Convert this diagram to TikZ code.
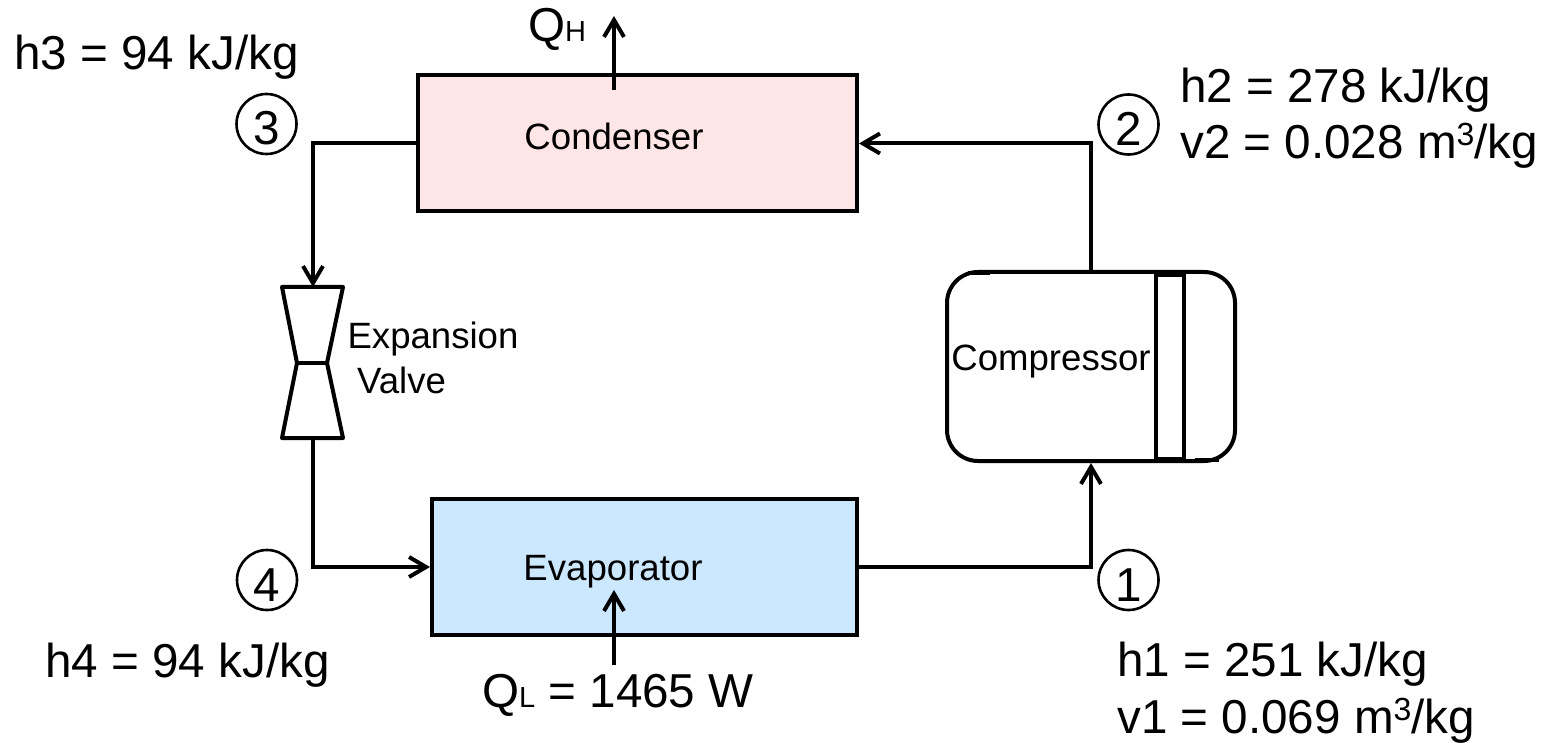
\documentclass[tikz,border=0pt]{standalone}
\usepackage{fontspec}
\setmainfont{Liberation Sans}
\usetikzlibrary{arrows.meta}
\definecolor{condfill}{RGB}{255,230,230}
\definecolor{evapfill}{RGB}{204,232,255}
\newcommand{\smallsub}[1]{{\fontsize{29}{29}\selectfont #1}}
\newcommand{\cubed}{\raisebox{13pt}{\fontsize{32}{32}\selectfont 3}}
\tikzset{
	pipe/.style={line width=4pt},
	flow/.style={pipe,-{Straight Barb[length=17pt,width=20pt,line width=4pt]}},
	unit/.style={draw,line width=4pt,inner sep=0pt},
	label/.style={inner sep=0pt,anchor=base,font=\fontsize{36.6}{40}\selectfont},
	value/.style={inner sep=0pt,anchor=base west,align=left,font=\fontsize{47.6}{56.5}\selectfont},
	state/.style={draw,circle,line width=2.6pt,minimum size=60pt,inner sep=0pt,text height=42pt,text depth=0pt,font=\fontsize{47.6}{48}\selectfont},
}
\begin{document}
\begin{tikzpicture}[x=1pt,y=-1pt]
				\useasboundingbox (0,0) rectangle (1547,743);
				\node[unit,fill=condfill,minimum width=439pt,minimum height=136pt](cond) at (637.5,143.5){};
				\node[unit,fill=evapfill,minimum width=425pt,minimum height=136pt](evap) at (644.5,567){};
				\node[unit,rounded corners=31pt,minimum width=288pt,minimum height=189pt](comp) at (1091,366.5){};
				\node[unit,minimum width=28pt,minimum height=184pt](piston) at (1170,367){};
				\draw[pipe](968,273) -- (990,273);
				\draw[pipe](1195,460) -- (1219,460);
				\node[label](condtext) at (614,150){Condenser};
				\node[label](evaptext) at (613,580){Evaporator};
				\node[label](comptext) at (1051,370){Compressor};
				\node[label](valvetext1) at (433,348){Expansion};
				\node[label](valvetext2) at (401.5,393){Valve};
				\coordinate(valvetop) at (313,287);
				\coordinate(valvebot) at (313,438);
				\draw[pipe,line join=round](282,287) -- (343,287) -- (327,363) -- (343,438) -- (282,438) -- (297,363) -- cycle;
				\draw[pipe](297,363) -- (327,363);
				\coordinate(qhstart) at (614,90);
				\coordinate(qhend) at (614,16);
				\coordinate(qlstart) at (614,665);
				\coordinate(qlend) at (614,590);
       				\draw[flow](cond.west) -- (313,143.5) -- (valvetop);
       				\draw[pipe](valvebot) -- (313,567);
       				\draw[flow](311,567) -- (evap.west);
       				\draw[pipe](evap.east) -- (1093,567);
       				\draw[flow](1091,569) -- (comp.south);
       				\draw[pipe](comp.north) -- (1091,142);
       				\draw[flow](1093,143.5) -- (cond.east);
       				\draw[flow](qhstart) -- (qhend);
       				\draw[flow](qlstart) -- (qlend);
				\node[state](s3) at (266.5,124){3};
				\node[state](s2) at (1128.5,124.5){2};
				\node[state](s4) at (267,580){4};
				\node[state](s1) at (1128.5,580){1};
				\node[value](h3) at (14,70){h3 = 94 kJ/kg};
				\node[value](h2) at (1180,159){h2 = 278 kJ/kg\\v2 = 0.028 m\cubed/kg};
				\node[value](h4) at (45,677){h4 = 94 kJ/kg};
				\node[value](h1) at (1117,733){h1 = 251 kJ/kg\\v1 = 0.069 m\cubed/kg};
				\node[value](qh) at (528,42){Q\smallsub{H}};
				\node[value](ql) at (482,707){Q\smallsub{L} = 1465 W};
			\end{tikzpicture}
\end{document}
